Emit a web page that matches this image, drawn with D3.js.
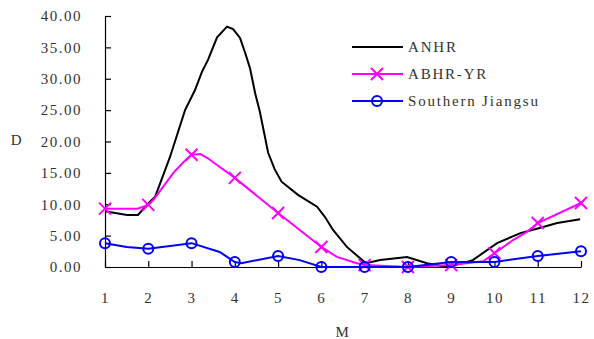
<!DOCTYPE html>
<html>
<head>
<meta charset="utf-8">
<script src="https://cdn.jsdelivr.net/npm/d3@7"></script>
<style>
  body { margin: 0; background: #fff; }
  svg text { font-family: "Liberation Serif", "DejaVu Serif", serif; font-size: 15px; fill: #333; letter-spacing: 1.5px; }
  svg .legend text { letter-spacing: 1.8px; }
</style>
</head>
<body>
<svg id="chart" width="594" height="339"></svg>
<script>
// ANHR (dense series, month / value)
var anhrMonth = [1.00, 1.51, 1.76, 2.04, 2.16, 2.50, 2.85, 3.08, 3.24, 3.38, 3.59, 3.82, 3.96,
  4.12, 4.24, 4.35, 4.47, 4.58, 4.77, 4.92, 5.08, 5.46, 5.90, 6.08, 6.27, 6.59, 7.03, 7.36, 7.98,
  8.44, 8.88, 9.04, 9.50, 10.06, 10.60, 10.98, 11.45, 11.98];
var anhrValue = [8.9, 8.3, 8.3, 10.4, 11.2, 17.5, 25.0, 28.2, 31.1, 33.0, 36.6, 38.3, 37.9,
  36.5, 34.1, 31.7, 27.7, 24.7, 18.2, 15.6, 13.6, 11.5, 9.6, 8.0, 5.9, 3.2, 0.6, 1.1, 1.6,
  0.6, 0.0, 0.2, 1.1, 3.8, 5.4, 6.1, 7.0, 7.6];

// ABHR-YR
var abhrMonth = [1, 1.75, 2, 2.12, 2.58, 2.81, 3, 3.2, 3.36, 4, 5, 5.5, 6, 6.36, 6.82, 7, 8, 9, 9.74, 10, 10.43, 10.75, 11, 12];
var abhrValue = [9.3, 9.3, 9.9, 10.7, 15.0, 16.7, 17.9, 18.0, 17.4, 14.2, 8.6, 5.9, 3.2, 1.6, 0.6, 0.3, 0.0, 0.3, 0.9, 2.2, 4.3, 5.6, 7.0, 10.2];

// Southern Jiangsu
var sjMonth = [1, 1.5, 2, 3, 3.65, 4, 4.15, 5, 5.5, 6, 7, 8, 9, 10, 11, 12];
var sjValue = [3.8, 3.2, 2.9, 3.8, 2.4, 0.8, 0.6, 1.75, 1.1, 0.0, 0.0, 0.0, 0.8, 0.8, 1.75, 2.5];

var monthTicks = [1, 2, 3, 4, 5, 6, 7, 8, 9, 10, 11, 12];
var valueTicks = [0, 5, 10, 15, 20, 25, 30, 35, 40];
var seriesNames = ["ANHR", "ABHR-YR", "Southern Jiangsu"];

var svg = d3.select("#chart");
var x = d3.scaleLinear().domain([1, 12]).range([105, 581]);
var y = d3.scaleLinear().domain([0, 40]).range([267, 16]);

function zip(ms, vs) { return ms.map(function(m, i) { return {m: m, v: vs[i]}; }); }
var anhr = zip(anhrMonth, anhrValue),
    abhr = zip(abhrMonth, abhrValue),
    sj = zip(sjMonth, sjValue);

// axes
svg.append("g")
  .attr("transform", "translate(" + x(1) + ",0)")
  .call(d3.axisLeft(y).tickValues(valueTicks).tickFormat(d3.format(".2f"))
    .tickSizeInner(-6).tickSizeOuter(0).tickPadding(23));
svg.append("g")
  .attr("transform", "translate(0," + y(0) + ")")
  .call(d3.axisBottom(x).tickValues(monthTicks).tickFormat(d3.format("d"))
    .tickSizeInner(-6).tickSizeOuter(0).tickPadding(25));
svg.selectAll(".domain, .tick line").attr("stroke", "#000").attr("stroke-width", 1.2);
svg.selectAll(".tick text").attr("font-family", null).attr("font-size", null).style("fill", "#333");

svg.append("text").attr("x", 17).attr("y", 145).attr("text-anchor", "middle").text("D");
svg.append("text").attr("x", 343).attr("y", 337).attr("text-anchor", "middle").text("M");

var line = d3.line().x(function(d) { return x(d.m); }).y(function(d) { return y(d.v); });

svg.append("path").datum(anhr).attr("d", line)
  .attr("fill", "none").attr("stroke", "#000").attr("stroke-width", 2);

svg.append("path").datum(abhr).attr("d", line)
  .attr("fill", "none").attr("stroke", "#ff00ff").attr("stroke-width", 2);

function crossPath(cx, cy, s) {
  return "M" + (cx - s) + "," + (cy - s) + "L" + (cx + s) + "," + (cy + s) +
         "M" + (cx - s) + "," + (cy + s) + "L" + (cx + s) + "," + (cy - s);
}
svg.append("g").selectAll("path")
  .data(abhr.filter(function(d) { return Number.isInteger(d.m); }))
  .join("path")
  .attr("d", function(d) { return crossPath(x(d.m), y(d.v), 6); })
  .attr("stroke", "#ff00ff").attr("stroke-width", 2);

svg.append("path").datum(sj).attr("d", line)
  .attr("fill", "none").attr("stroke", "#0000ff").attr("stroke-width", 2);
svg.append("g").selectAll("circle")
  .data(sj.filter(function(d) { return Number.isInteger(d.m); }))
  .join("circle")
  .attr("cx", function(d) { return x(d.m); })
  .attr("cy", function(d) { return y(d.v); })
  .attr("r", 5)
  .attr("fill", "none").attr("stroke", "#0000ff").attr("stroke-width", 2);

// legend
var colors = ["#000", "#ff00ff", "#0000ff"];
var leg = svg.append("g").attr("class", "legend");
seriesNames.forEach(function(name, i) {
  var ly = 47 + i * 27;
  leg.append("line").attr("x1", 352).attr("x2", 403).attr("y1", ly).attr("y2", ly)
    .attr("stroke", colors[i]).attr("stroke-width", 2);
  if (i === 1) leg.append("path").attr("d", crossPath(377, ly, 6)).attr("stroke", colors[i]).attr("stroke-width", 2);
  if (i === 2) leg.append("circle").attr("cx", 377).attr("cy", ly).attr("r", 5)
    .attr("fill", "none").attr("stroke", colors[i]).attr("stroke-width", 2);
  leg.append("text").attr("x", 408).attr("y", ly + 5).text(name);
});
</script>
</body>
</html>
